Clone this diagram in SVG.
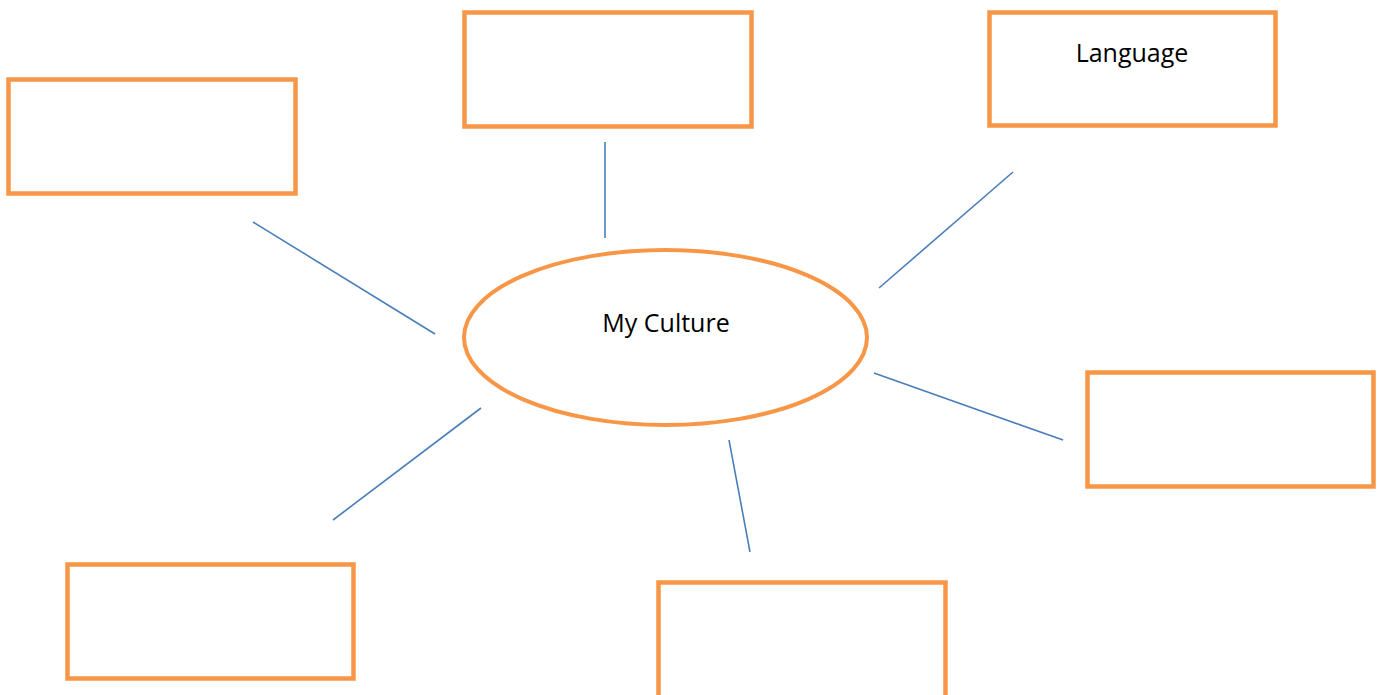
<svg xmlns="http://www.w3.org/2000/svg" width="1383" height="695" viewBox="0 0 1383 695">
<style>
.box{fill:#fff;stroke:#F79646;stroke-width:4.5}
.ell{fill:#fff;stroke:#F79646;stroke-width:4}
.lbl{font-family:"Open Sans","Noto Sans",sans-serif;font-size:25px;fill:#000;text-anchor:middle}
.conn line{stroke:#4A7EBB;stroke-width:1.6}
</style>
<rect width="1383" height="695" fill="#fff"/>
<g id="connectors" class="conn">
<line x1="253" y1="222" x2="435" y2="334"/>
<line x1="605" y1="142" x2="605" y2="238"/>
<line x1="1013" y1="172" x2="879" y2="288"/>
<line x1="874" y1="373" x2="1063" y2="440"/>
<line x1="729" y1="440" x2="750" y2="552"/>
<line x1="481" y1="408" x2="333" y2="520"/>
</g>
<g id="center"><ellipse class="ell" cx="665.5" cy="337.5" rx="201.5" ry="87.5"/><text class="lbl" x="666" y="332">My Culture</text></g>
<g id="box-topleft"><rect class="box" x="8.5" y="79.5" width="287" height="114"/></g>
<g id="box-top"><rect class="box" x="464.5" y="12.5" width="287" height="114"/></g>
<g id="box-language"><rect class="box" x="989.5" y="12.5" width="286" height="113"/><text class="lbl" x="1132" y="62">Language</text></g>
<g id="box-right"><rect class="box" x="1087.5" y="372.5" width="286" height="114"/></g>
<g id="box-bottom"><rect class="box" x="658.5" y="582.5" width="287" height="120"/></g>
<g id="box-bottomleft"><rect class="box" x="67.5" y="564.5" width="286" height="114"/></g>
</svg>
